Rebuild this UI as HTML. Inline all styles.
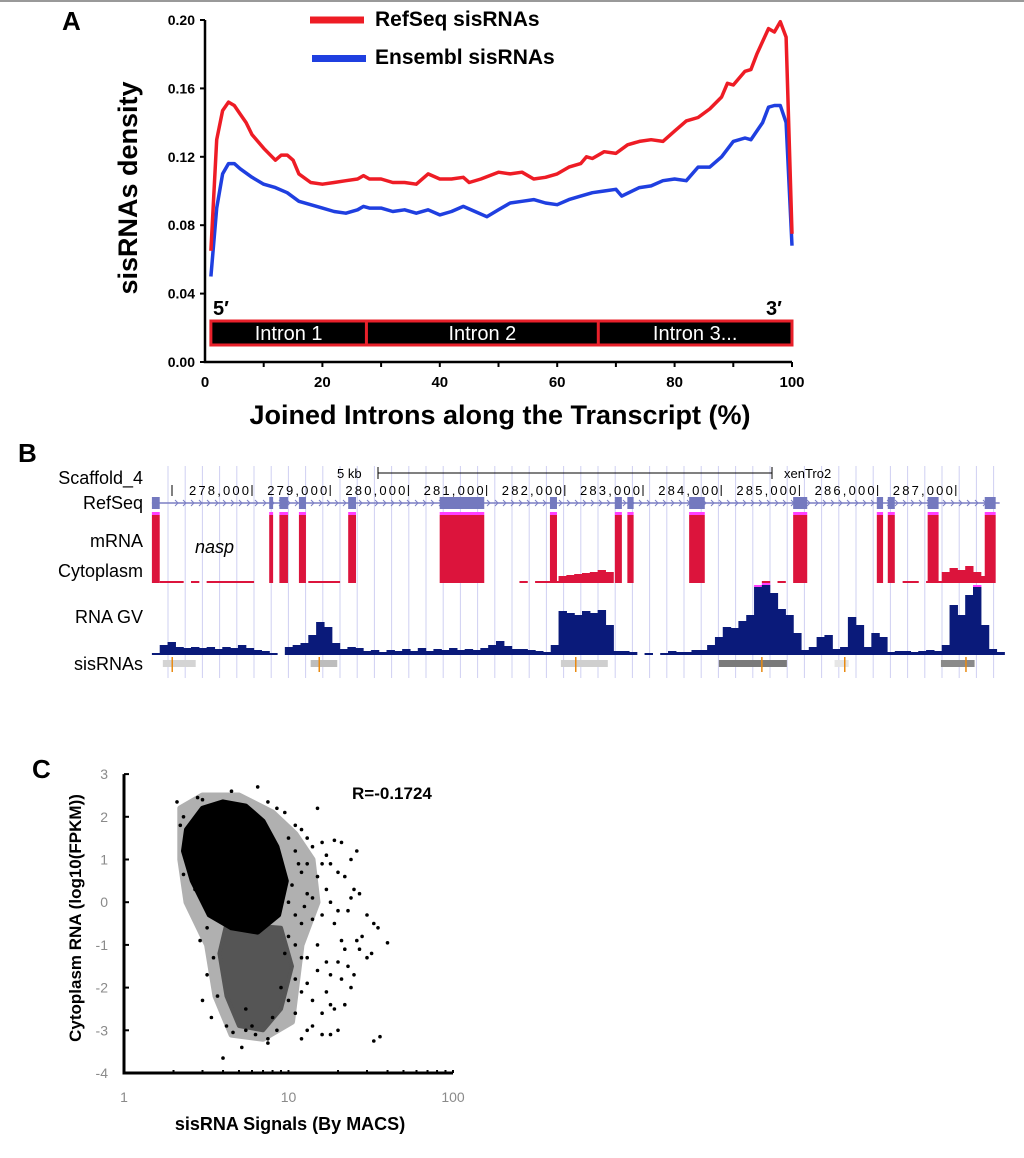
<!DOCTYPE html>
<html><head><meta charset="utf-8"><style>
html,body{margin:0;padding:0;background:#fff;}
svg{display:block;}
text{font-family:"Liberation Sans",sans-serif;}
</style></head><body>
<svg id="fig" width="1024" height="1158" viewBox="0 0 1024 1158" xmlns="http://www.w3.org/2000/svg">
<rect x="0" y="0" width="1024" height="2" fill="#999"/>
<g id="pa"></g>
<g id="pb"></g>
<g id="pc"></g>
</svg>
<script>
// ---------- Panel A data ----------
const aRedX = [1,2,3,4,5,6,7,8,10,12,13,14,15,16,18,20,22,24,26,27,28,30,32,34,36,38,40,42,44,45,47,50,52,54,56,58,60,62,64,65,66,68,70,72,74,76,78,80,82,84,86,88,89,90,92,93,94,96,97,98,99,100];
const aRedY = [0.065,0.13,0.147,0.152,0.15,0.145,0.14,0.133,0.125,0.118,0.121,0.121,0.118,0.11,0.105,0.104,0.105,0.106,0.107,0.109,0.107,0.107,0.105,0.105,0.104,0.11,0.107,0.107,0.108,0.105,0.107,0.111,0.11,0.111,0.107,0.108,0.11,0.114,0.116,0.12,0.119,0.123,0.122,0.127,0.129,0.13,0.129,0.135,0.141,0.143,0.148,0.155,0.163,0.162,0.17,0.171,0.18,0.195,0.193,0.199,0.19,0.075];
const aBlueX = [1,2,3,4,5,6,8,10,12,14,16,18,20,22,24,26,27,28,30,32,34,36,38,40,42,44,46,48,50,52,54,56,58,60,62,64,66,68,70,71,74,76,78,80,82,84,86,88,90,92,93,95,96,97,98,99,100];
const aBlueY = [0.05,0.09,0.11,0.116,0.116,0.113,0.108,0.104,0.102,0.099,0.094,0.092,0.09,0.088,0.087,0.089,0.091,0.09,0.09,0.088,0.089,0.087,0.089,0.086,0.088,0.091,0.088,0.085,0.089,0.093,0.094,0.095,0.093,0.092,0.095,0.097,0.099,0.1,0.101,0.097,0.102,0.103,0.106,0.107,0.106,0.114,0.114,0.12,0.129,0.131,0.13,0.14,0.149,0.15,0.15,0.14,0.068];
const aYTicks = [0.00,0.04,0.08,0.12,0.16,0.20];
const aXTicks = [0,20,40,60,80,100];
const aIntronNames = ["Intron 1","Intron 2","Intron 3..."];
const aIntronBounds = [1,27.5,67,100];

// ---------- Panel B data (genomic kb) ----------
const bCoordTicks = [278,279,280,281,282,283,284,285,286,287];
const bExonStart = [276.72,278.22,278.35,278.60,279.23,280.40,281.81,282.64,282.80,283.59,284.92,285.99,286.13,286.64,287.37];
const bExonEnd   = [276.82,278.27,278.46,278.69,279.33,280.97,281.90,282.73,282.88,283.79,285.10,286.07,286.22,286.78,287.51];
const bBinStart = 276.72, bBinStep = 0.1;
const bGV = [2,10,13,8,7,8,7,8,6,8,7,10,7,5,4,2,0,8,10,12,20,33,28,12,6,8,7,4,5,3,5,4,6,4,7,4,6,5,7,5,6,5,7,10,14,9,6,6,5,4,3,10,44,42,40,44,42,45,30,4,4,3,0,2,0,2,4,3,3,5,5,10,18,28,27,34,40,68,70,62,46,40,22,5,8,18,20,6,8,38,30,8,22,18,3,4,4,3,4,5,4,10,50,40,60,68,30,6,3];
const bMrnaBg = [0,1,1,1,0,1,0,1,1,1,1,1,1,0,0,0,0,0,0,0,1,1,1,1,0,0,0,0,0,0,0,0,0,0,0,0,0,0,0,0,0,0,0,0,0,0,0,1,0,1,1,1,6,7,8,9,10,12,10,0,0,0,0,0,0,0,0,0,0,0,0,0,0,0,0,0,0,0,1,0,1,0,0,0,0,0,0,0,0,0,0,0,0,0,0,0,1,1,0,1,1,10,14,12,16,10,6,0,0];
const bSisStart = [276.86,278.75,281.95,283.97,285.45,286.81];
const bSisEnd   = [277.28,279.09,282.55,284.84,285.63,287.24];
const bSisShade = ["#d4d4d4","#bdbdbd","#cfcfcf","#7a7a7a","#e6e6e6","#8a8a8a"];
const bSisTicks = [276.98,278.86,282.14,284.52,285.58,287.13];

// ---------- Panel C data ----------
const cYTicks = [3,2,1,0,-1,-2,-3,-4];
const cXTicks = [1,10,100];
const cHalo = [[2.2,2.2],[3,2.5],[5,2.5],[8,2.1],[11,1.6],[14,1.0],[15,0],[12,-1],[10.5,-2.8],[7,-3.2],[4.5,-3.1],[3.6,-2.2],[3.2,-1],[2.4,0],[2.2,1]];
const cCore = [[2.4,1.7],[3,2.2],[4,2.35],[5.5,2.25],[7,1.9],[8.5,1.3],[9.7,0.5],[8.7,-0.3],[6.5,-0.7],[4.5,-0.6],[3.3,-0.3],[2.6,0.5],[2.3,1.2]];
const cTail = [[4.2,-0.5],[9,-0.6],[10.5,-1.5],[9,-2.5],[7,-3],[5,-2.9],[4.2,-2.2],[3.8,-1.2]];
const cPts = [[2.1,2.35],[2.2,1.8],[2.3,2.0],[2.4,1.7],[2.3,0.65],[2.8,2.45],[3.0,2.4],[2.6,1.1],[2.7,0.3],[2.9,-0.9],[3.2,-1.7],[3.0,-2.3],[3.4,-2.7],[3.7,-2.2],[4.0,-3.65],[4.6,-3.05],[5.2,-3.4],[5.5,-3.0],[6.3,-3.1],[7.5,-3.3],[7.5,-3.2],[6.5,2.7],[4.5,2.6],[7.5,2.35],[8.5,2.2],[9.5,2.1],[15,2.2],[11,1.8],[12,1.7],[13,1.5],[14,1.3],[16,1.4],[17,1.1],[18,0.9],[19,1.45],[21,1.4],[24,1.0],[26,1.2],[20,0.7],[22,0.6],[25,0.3],[27,0.2],[30,-0.3],[33,-0.5],[35,-0.6],[40,-0.95],[28,-0.8],[27,-1.1],[30,-1.3],[32,-1.2],[25,-1.7],[24,-2.0],[20,-1.4],[18,-1.7],[17,-2.1],[19,-2.5],[22,-2.4],[16,-2.6],[14,-2.9],[13,-3.0],[12,-3.2],[18,-3.1],[20,-3.0],[33,-3.25],[36,-3.15],[11,-0.3],[12,-0.5],[13,0.2],[14,-0.4],[15,-1.0],[12,-1.3],[11,-1.8],[10,-2.3],[11,-2.6],[13,-1.9],[15,-1.6],[16,-0.3],[17,0.3],[19,-0.5],[21,-0.9],[23,-0.2],[15,0.6],[13,0.9],[11,1.2],[12,0.7],[10.5,0.4],[10,1.5],[9.5,-1.2],[9,-2.0],[8,-2.7],[8.5,-3.0],[6,-2.9],[5.5,-2.5],[4.2,-2.9],[3.5,-1.3],[3.2,-0.6],[10,-0.8],[14,0.1],[16,0.9],[18,0.0],[20,-0.2],[22,-1.1],[26,-0.9],[24,0.1],[9,1.0],[10,0.0],[11,-1.0],[13,-1.3],[14,-2.3],[17,-1.4],[21,-1.8],[23,-1.5],[12,-2.1],[16,-3.1],[18,-2.4],[11.5,0.9],[12.5,-0.1]];

const NS = "http://www.w3.org/2000/svg";
function mk(parent, tag, attrs, txt) {
  const el = document.createElementNS(NS, tag);
  for (const k in attrs) el.setAttribute(k, attrs[k]);
  if (txt !== undefined) el.textContent = txt;
  parent.appendChild(el);
  return el;
}

// ================= PANEL A =================
(function(){
  const g = document.getElementById('pa');
  const X = v => 205 + (v/100)*587;
  const Y = v => 362 - (v/0.2)*342;
  let t = mk(g,'text',{x:62,y:30,'font-size':26,'font-weight':'bold'},'A');
   
  let ax = mk(g,'path',{d:`M${X(0)},${Y(0.2)} V${Y(0)} H${X(100)}`,stroke:'#000','stroke-width':2.5,fill:'none'});
   
  aYTicks.forEach(v=>{
    const tk = mk(g,'line',{x1:X(0)-5,x2:X(0),y1:Y(v),y2:Y(v),stroke:'#000','stroke-width':2});
     
    const lb = mk(g,'text',{x:X(0)-10,y:Y(v)+5,'font-size':14,'font-weight':'bold','text-anchor':'end'},v.toFixed(2));
     
  });
  for(let v=10; v<=100; v+=10){
    const tk = mk(g,'line',{x1:X(v),x2:X(v),y1:Y(0),y2:Y(0)+5,stroke:'#000','stroke-width':2});
     
  }
  aXTicks.forEach(v=>{
    const lb = mk(g,'text',{x:X(v),y:Y(0)+25,'font-size':15,'font-weight':'bold','text-anchor':'middle'},String(v));
     
  });
  let yl = mk(g,'text',{x:0,y:0,'font-size':27,'font-weight':'bold','text-anchor':'middle',transform:'translate(137,188) rotate(-90)'},'sisRNAs density');
   
  let xl = mk(g,'text',{x:500,y:424,'font-size':27,'font-weight':'bold','text-anchor':'middle'},'Joined Introns along the Transcript (%)');
   
  const bar = mk(g,'g',{});
   
  mk(bar,'rect',{x:X(aIntronBounds[0]),y:321,width:X(aIntronBounds[3])-X(aIntronBounds[0]),height:24,fill:'#000',stroke:'#e8202a','stroke-width':3});
  aIntronNames.forEach((n,i)=>{
    if(i>0){ const d = mk(bar,'line',{x1:X(aIntronBounds[i]),x2:X(aIntronBounds[i]),y1:321,y2:345,stroke:'#e8202a','stroke-width':3});
        }
    const cx=(X(aIntronBounds[i])+X(aIntronBounds[i+1]))/2;
    const lb = mk(bar,'text',{x:cx,y:340,'font-size':20,fill:'#fff','text-anchor':'middle'},n);
     
  });
  let p5 = mk(g,'text',{x:213,y:315,'font-size':20,'font-weight':'bold'},'5\u2032');
   
  let p3 = mk(g,'text',{x:766,y:315,'font-size':20,'font-weight':'bold'},'3\u2032');
   
  const line = (xs,ys)=> xs.map((x,i)=>(i?'L':'M')+X(x).toFixed(1)+','+Y(ys[i]).toFixed(1)).join(' ');
  let bl = mk(g,'path',{d:line(aBlueX,aBlueY),stroke:'#1f3fe0','stroke-width':3.5,fill:'none','stroke-linejoin':'round'});
   
  let rl = mk(g,'path',{d:line(aRedX,aRedY),stroke:'#ee1c25','stroke-width':3.5,fill:'none','stroke-linejoin':'round'});
   
  let le1 = mk(g,'g',{});  
  mk(le1,'line',{x1:310,x2:364,y1:20,y2:20,stroke:'#ee1c25','stroke-width':7});
  mk(le1,'text',{x:375,y:26,'font-size':21,'font-weight':'bold'},'RefSeq sisRNAs');
  let le2 = mk(g,'g',{});  
  mk(le2,'line',{x1:312,x2:366,y1:58.5,y2:58.5,stroke:'#1f3fe0','stroke-width':7});
  mk(le2,'text',{x:375,y:64,'font-size':21,'font-weight':'bold'},'Ensembl sisRNAs');
})();

// ================= PANEL B =================
(function(){
  const g = document.getElementById('pb');
  const X = kb => 252 + (kb-278)*78.2;
  let t = mk(g,'text',{x:18,y:462,'font-size':26,'font-weight':'bold'},'B');
   
  const grid = mk(g,'g',{stroke:'#cfd0f2','stroke-width':1});
   
  for(let x=168; x<1000; x+=17.2) mk(grid,'line',{x1:x.toFixed(1),x2:x.toFixed(1),y1:466,y2:678});
  const labels=[['Scaffold_4',484],['RefSeq',509],['mRNA',547],['Cytoplasm',577],['RNA GV',623],['sisRNAs',670]];
  labels.forEach(([s,y])=>{
    const lb = mk(g,'text',{x:143,y:y,'font-size':18,'text-anchor':'end'},s);
     
  });
  const sb = mk(g,'g',{});  
  mk(sb,'text',{x:337,y:478,'font-size':13,'font-family':'Liberation Mono, monospace'},'5 kb');
  mk(sb,'line',{x1:378,x2:772,y1:473,y2:473,stroke:'#000','stroke-width':1});
  mk(sb,'line',{x1:378,x2:378,y1:467,y2:479,stroke:'#000','stroke-width':1});
  mk(sb,'line',{x1:772,x2:772,y1:467,y2:479,stroke:'#000','stroke-width':1});
  mk(sb,'text',{x:784,y:478,'font-size':13,'font-family':'Liberation Mono, monospace'},'xenTro2');
  let c0 = mk(g,'line',{x1:172,x2:172,y1:485,y2:496,stroke:'#000'});
   
  bCoordTicks.forEach(kb=>{
    const x=X(kb);
    const tk = mk(g,'line',{x1:x,x2:x,y1:485,y2:496,stroke:'#000'});
     
    const lb = mk(g,'text',{x:x-3,y:495,'font-size':13,'text-anchor':'end','font-family':'Liberation Mono, monospace','textLength':60},(kb*1000).toLocaleString('en-US'));
     
  });
  const gene = mk(g,'g',{});  
  mk(gene,'line',{x1:X(bExonStart[0]),x2:X(bExonEnd[bExonEnd.length-1])+4,y1:503,y2:503,stroke:'#7b7fc4','stroke-width':1.5});
  for(let x=175; x<995; x+=8) mk(gene,'path',{d:`M${x},500 l3,3 l-3,3`,stroke:'#7b7fc4',fill:'none','stroke-width':1});
  bExonStart.forEach((s,i)=>{
    const e = mk(gene,'rect',{x:X(s),y:497,width:X(bExonEnd[i])-X(s),height:12,fill:'#7479bf'});
     
  });
  const base=583, full=68;
  const mr = mk(g,'g',{});  
  bMrnaBg.forEach((v,i)=>{
    if(v<=0) return;
    const x0=X(bBinStart+i*bBinStep);
    const r = mk(mr,'rect',{x:x0,y:base-1-v,width:78.2*bBinStep+0.5,height:v+1,fill:'#dc143c'});
     
  });
  bExonStart.forEach((s,i)=>{
    const r = mk(mr,'rect',{x:X(s),y:base-full,width:X(bExonEnd[i])-X(s),height:full,fill:'#dc143c'});
     
    const p = mk(mr,'rect',{x:X(s),y:base-full-3,width:X(bExonEnd[i])-X(s),height:3,fill:'#ff40ff'});
     
  });
  let nasp = mk(g,'text',{x:195,y:553,'font-size':18,'font-style':'italic'},'nasp');
   
  const gvBase=655;
  const gv = mk(g,'g',{});  
  bGV.forEach((v,i)=>{
    if(v<=0) return;
    const x0=X(bBinStart+i*bBinStep);
    const r = mk(gv,'rect',{x:x0,y:gvBase-v,width:78.2*bBinStep+0.6,height:v,fill:'#0a1a7a'});
     
    if(v>=68){ const c = mk(gv,'rect',{x:x0,y:gvBase-v-2,width:78.2*bBinStep+0.6,height:2,fill:'#ff40ff'});
        }
  });
  const sr = mk(g,'g',{});  
  bSisStart.forEach((s,i)=>{
    const r = mk(sr,'rect',{x:X(s),y:660,width:X(bSisEnd[i])-X(s),height:7,fill:bSisShade[i]});
     
  });
  bSisTicks.forEach(s=>{
    const l = mk(sr,'line',{x1:X(s),x2:X(s),y1:657,y2:672,stroke:'#e88a12','stroke-width':1.5});
     
  });
})();

// ================= PANEL C =================
(function(){
  const g = document.getElementById('pc');
  const X = v => 124 + Math.log10(v)*164.5;
  const Y = v => 1073 - (v+4)*42.7;
  let t = mk(g,'text',{x:32,y:778,'font-size':26,'font-weight':'bold'},'C');
   
  const poly = arr => arr.map(p=>X(p[0]).toFixed(1)+','+Y(p[1]).toFixed(1)).join(' ');
  let halo = mk(g,'polygon',{points:poly(cHalo),fill:'#b0b0b0','stroke':'#b0b0b0','stroke-width':6,'stroke-linejoin':'round'});
   
  let tail = mk(g,'polygon',{points:poly(cTail),fill:'#555','stroke':'#555','stroke-width':4,'stroke-linejoin':'round'});
   
  let core = mk(g,'polygon',{points:poly(cCore),fill:'#000','stroke':'#000','stroke-width':5,'stroke-linejoin':'round'});
   
  cPts.forEach(p=>{
    const c = mk(g,'circle',{cx:X(p[0]).toFixed(1),cy:Y(p[1]).toFixed(1),r:1.8,fill:'#000'});
     
  });
  let ax = mk(g,'path',{d:`M${X(1)},${Y(3)} V${Y(-4)} H${X(100)}`,stroke:'#000','stroke-width':3,fill:'none'});
   
  cYTicks.forEach(v=>{
    const tk = mk(g,'line',{x1:X(1),x2:X(1)+5,y1:Y(v),y2:Y(v),stroke:'#000','stroke-width':2});
     
    const lb = mk(g,'text',{x:X(1)-16,y:Y(v)+5,'font-size':14,fill:'#8a8a8a','text-anchor':'end'},String(v));
     
  });
  for(let d=1; d<100; d*=10) for(let m=2; m<=10; m++){
    const x=X(d*m);
    const tk = mk(g,'line',{x1:x,x2:x,y1:Y(-4)-3,y2:Y(-4),stroke:'#000','stroke-width':2});
     
  }
  cXTicks.forEach(v=>{
    const lb = mk(g,'text',{x:X(v),y:Y(-4)+29,'font-size':14,fill:'#8a8a8a','text-anchor':'middle'},String(v));
     
  });
  let yl = mk(g,'text',{x:0,y:0,'font-size':17,'font-weight':'bold','text-anchor':'middle',transform:'translate(81,918) rotate(-90)'},'Cytoplasm RNA (log10(FPKM))');
   
  let xl = mk(g,'text',{x:290,y:1130,'font-size':18,'font-weight':'bold','text-anchor':'middle'},'sisRNA Signals (By MACS)');
   
  let r = mk(g,'text',{x:352,y:799,'font-size':17,'font-weight':'bold'},'R=-0.1724');
   
})();
</script>
</body></html>
